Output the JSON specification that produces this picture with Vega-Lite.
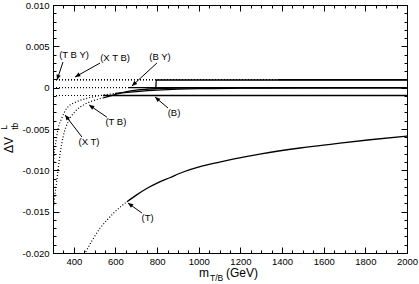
{
  "$schema": "https://vega.github.io/schema/vega-lite/v6.json",
  "width": 354,
  "height": 248,
  "autosize": {"type": "none"},
  "padding": {"left": 53, "top": 5, "right": 12, "bottom": 31},
  "background": "white",
  "config": {
    "view": {"stroke": "black", "strokeWidth": 1},
    "axis": {"grid": false, "domainColor": "black", "tickColor": "black", "labelColor": "black", "labelFont": "Liberation Sans", "labelFontSize": 9.5, "tickWidth": 1, "domainWidth": 1},
    "text": {"font": "Liberation Sans", "color": "black"}
  },
  "datasets": {
    "curves": [
      {"s": "XT", "part": "excluded", "m": 300, "v": -0.0108},
      {"s": "XT", "part": "excluded", "m": 305, "v": -0.0081},
      {"s": "XT", "part": "excluded", "m": 314, "v": -0.0065},
      {"s": "XT", "part": "excluded", "m": 325, "v": -0.0049},
      {"s": "XT", "part": "excluded", "m": 342, "v": -0.0037},
      {"s": "XT", "part": "excluded", "m": 366, "v": -0.0025},
      {"s": "XT", "part": "excluded", "m": 414, "v": -0.0017},
      {"s": "XT", "part": "excluded", "m": 462, "v": -0.0013},
      {"s": "XT", "part": "excluded", "m": 526, "v": -0.00095},
      {"s": "XT", "part": "excluded", "m": 560, "v": -0.00083},
      {"s": "XT", "part": "excluded", "m": 598, "v": -0.00068},
      {"s": "XT", "part": "allowed", "m": 598, "v": -0.00068},
      {"s": "XT", "part": "allowed", "m": 700, "v": -0.00047},
      {"s": "XT", "part": "allowed", "m": 800, "v": -0.0003},
      {"s": "XT", "part": "allowed", "m": 900, "v": -0.00018},
      {"s": "XT", "part": "allowed", "m": 1000, "v": -0.00011},
      {"s": "XT", "part": "allowed", "m": 1200, "v": -0.00006},
      {"s": "XT", "part": "allowed", "m": 1500, "v": -0.00003},
      {"s": "XT", "part": "allowed", "m": 2000, "v": -0.00001},
      {"s": "TB", "part": "excluded", "m": 300, "v": -0.015},
      {"s": "TB", "part": "excluded", "m": 310, "v": -0.0128},
      {"s": "TB", "part": "excluded", "m": 318, "v": -0.0113},
      {"s": "TB", "part": "excluded", "m": 325, "v": -0.0098},
      {"s": "TB", "part": "excluded", "m": 334, "v": -0.008},
      {"s": "TB", "part": "excluded", "m": 349, "v": -0.0059},
      {"s": "TB", "part": "excluded", "m": 373, "v": -0.0041},
      {"s": "TB", "part": "excluded", "m": 406, "v": -0.0029},
      {"s": "TB", "part": "excluded", "m": 446, "v": -0.0021},
      {"s": "TB", "part": "excluded", "m": 490, "v": -0.0016},
      {"s": "TB", "part": "excluded", "m": 540, "v": -0.00125},
      {"s": "TB", "part": "allowed", "m": 540, "v": -0.00125},
      {"s": "TB", "part": "allowed", "m": 600, "v": -0.0008},
      {"s": "TB", "part": "allowed", "m": 650, "v": -0.0005},
      {"s": "TB", "part": "allowed", "m": 700, "v": -0.0003},
      {"s": "TB", "part": "allowed", "m": 800, "v": -0.00012},
      {"s": "TB", "part": "allowed", "m": 900, "v": -0.00006},
      {"s": "TB", "part": "allowed", "m": 1100, "v": -0.00003},
      {"s": "TB", "part": "allowed", "m": 1500, "v": -0.00001},
      {"s": "TB", "part": "allowed", "m": 2000, "v": 0},
      {"s": "B", "part": "excluded", "m": 300, "v": -0.00095},
      {"s": "B", "part": "excluded", "m": 540, "v": -0.00095},
      {"s": "B", "part": "allowed", "m": 540, "v": -0.00095},
      {"s": "B", "part": "allowed", "m": 2000, "v": -0.00095},
      {"s": "BY", "part": "excluded", "m": 300, "v": 0},
      {"s": "BY", "part": "excluded", "m": 665, "v": 0},
      {"s": "BY", "part": "allowed", "m": 665, "v": 0},
      {"s": "BY", "part": "allowed", "m": 2000, "v": 0},
      {"s": "TBY", "part": "excluded", "m": 300, "v": 0.00093},
      {"s": "TBY", "part": "excluded", "m": 796, "v": 0.00093},
      {"s": "TBY", "part": "allowed", "m": 794, "v": 0},
      {"s": "TBY", "part": "allowed", "m": 796, "v": 0.00093},
      {"s": "TBY", "part": "allowed", "m": 2000, "v": 0.00093},
      {"s": "XTB", "part": "excluded", "m": 300, "v": 0.00097},
      {"s": "XTB", "part": "excluded", "m": 1380, "v": 0.00097},
      {"s": "XTB", "part": "allowed", "m": 1380, "v": 0.00097},
      {"s": "XTB", "part": "allowed", "m": 2000, "v": 0.00097},
      {"s": "T", "part": "excluded", "m": 450, "v": -0.0202},
      {"s": "T", "part": "excluded", "m": 490, "v": -0.0184},
      {"s": "T", "part": "excluded", "m": 526, "v": -0.017},
      {"s": "T", "part": "excluded", "m": 560, "v": -0.016},
      {"s": "T", "part": "excluded", "m": 590, "v": -0.0152},
      {"s": "T", "part": "excluded", "m": 620, "v": -0.0145},
      {"s": "T", "part": "excluded", "m": 655, "v": -0.0138},
      {"s": "T", "part": "allowed", "m": 655, "v": -0.0138},
      {"s": "T", "part": "allowed", "m": 700, "v": -0.013},
      {"s": "T", "part": "allowed", "m": 750, "v": -0.0122},
      {"s": "T", "part": "allowed", "m": 800, "v": -0.01155},
      {"s": "T", "part": "allowed", "m": 860, "v": -0.0109},
      {"s": "T", "part": "allowed", "m": 925, "v": -0.0102},
      {"s": "T", "part": "allowed", "m": 1006, "v": -0.00955},
      {"s": "T", "part": "allowed", "m": 1100, "v": -0.009},
      {"s": "T", "part": "allowed", "m": 1164, "v": -0.00865},
      {"s": "T", "part": "allowed", "m": 1300, "v": -0.008},
      {"s": "T", "part": "allowed", "m": 1486, "v": -0.0073},
      {"s": "T", "part": "allowed", "m": 1650, "v": -0.0068},
      {"s": "T", "part": "allowed", "m": 1822, "v": -0.0063},
      {"s": "T", "part": "allowed", "m": 2000, "v": -0.00585}
    ],
    "notes": [
      {"label": "(T B Y)", "lm": 401, "lv": 0.00395, "tm": 348, "tv": 0.0031, "hm": 319, "hv": 0.00093},
      {"label": "(X T B)", "lm": 598, "lv": 0.00359, "tm": 526, "tv": 0.00298, "hm": 406, "hv": 0.00129},
      {"label": "(B Y)", "lm": 814, "lv": 0.00371, "tm": 799, "tv": 0.00298, "hm": 679, "hv": 0.0002},
      {"label": "(T B)", "lm": 602, "lv": -0.00415, "tm": 559, "tv": -0.00357, "hm": 473, "hv": -0.00209},
      {"label": "(X T)", "lm": 473, "lv": -0.00657, "tm": 439, "tv": -0.00597, "hm": 358, "hv": -0.00331},
      {"label": "(B)", "lm": 881, "lv": -0.00307, "tm": 852, "tv": -0.00246, "hm": 790, "hv": -0.00113},
      {"label": "(T)", "lm": 754, "lv": -0.01577, "tm": 727, "tv": -0.01516, "hm": 660, "hv": -0.01395}
    ],
    "titles": [
      {"t": "m", "m": 1001, "v": -0.0229, "k": "xmain"},
      {"t": "T/B", "m": 1054, "v": -0.02339, "k": "xsub"},
      {"t": "(GeV)", "m": 1131, "v": -0.0229, "k": "xmain"},
      {"t": "ΔV", "m": 108, "v": -0.0079, "k": "ymain"},
      {"t": "tb", "m": 132, "v": -0.0051, "k": "ysub"},
      {"t": "L", "m": 79, "v": -0.0051, "k": "ysub"}
    ]
  },
  "layer": [
    {
      "data": {"name": "curves"},
      "transform": [{"filter": "datum.part == 'excluded'"}],
      "mark": {"type": "line", "color": "black", "strokeWidth": 1.2, "strokeDash": [1, 2], "strokeCap": "butt", "interpolate": "monotone", "clip": true},
      "encoding": {
        "x": {"field": "m", "type": "quantitative", "scale": {"domain": [300, 2000], "nice": false, "zero": false},
          "axis": {"orient": "bottom", "title": null, "values": [400, 600, 800, 1000, 1200, 1400, 1600, 1800, 2000], "format": "d", "tickSize": -6, "labelPadding": 9, "labelFlush": false, "labelOverlap": false}},
        "y": {"field": "v", "type": "quantitative", "scale": {"domain": [-0.02, 0.01], "nice": false, "zero": false},
          "axis": {"orient": "left", "title": null, "values": [-0.02, -0.015, -0.01, -0.005, 0, 0.005, 0.01], "labelExpr": "datum.value == 0 ? '0' : replace(format(datum.value, '.3f'), '\u2212', '-')", "tickSize": -6, "labelPadding": 10, "labelFlush": false, "labelOverlap": false}},
        "detail": {"field": "s"}
      }
    },
    {
      "data": {"name": "curves"},
      "transform": [{"filter": "datum.part == 'allowed'"}],
      "mark": {"type": "line", "color": "black", "strokeWidth": 1.3, "interpolate": "monotone", "clip": true},
      "encoding": {
        "x": {"field": "m", "type": "quantitative", "scale": {"domain": [300, 2000], "nice": false, "zero": false},
          "axis": {"orient": "top", "title": null, "values": [400, 600, 800, 1000, 1200, 1400, 1600, 1800, 2000], "labels": false, "tickSize": -6}},
        "y": {"field": "v", "type": "quantitative", "scale": {"domain": [-0.02, 0.01], "nice": false, "zero": false},
          "axis": {"orient": "right", "title": null, "values": [-0.02, -0.015, -0.01, -0.005, 0, 0.005, 0.01], "labels": false, "tickSize": -6}},
        "detail": {"field": "s"}
      }
    },
    {
      "data": {"name": "notes"},
      "mark": {"type": "rule", "color": "black", "strokeWidth": 1},
      "encoding": {
        "x": {"field": "tm", "type": "quantitative", "scale": {"domain": [300, 2000], "nice": false, "zero": false},
          "axis": {"orient": "bottom", "title": null, "labels": false, "domain": false, "tickSize": -3, "values": [350, 450, 500, 550, 650, 700, 750, 850, 900, 950, 1050, 1100, 1150, 1250, 1300, 1350, 1450, 1500, 1550, 1650, 1700, 1750, 1850, 1900, 1950]}},
        "y": {"field": "tv", "type": "quantitative", "scale": {"domain": [-0.02, 0.01], "nice": false, "zero": false},
          "axis": {"orient": "left", "title": null, "labels": false, "domain": false, "tickSize": -3, "values": [-0.019, -0.018, -0.017, -0.016, -0.014, -0.013, -0.012, -0.011, -0.009, -0.008, -0.007, -0.006, -0.004, -0.003, -0.002, -0.001, 0.001, 0.002, 0.003, 0.004, 0.006, 0.007, 0.008, 0.009]}},
        "x2": {"field": "hm"},
        "y2": {"field": "hv"}
      }
    },
    {
      "data": {"name": "notes"},
      "transform": [{"calculate": "atan2((datum.hm - datum.tm) * 354 / 1700, (datum.hv - datum.tv) * 248 / 0.03) * 180 / PI", "as": "ang"}],
      "mark": {"type": "point", "shape": "M0,0L-0.42,1L0.42,1Z", "filled": true, "color": "black", "opacity": 1, "size": 110, "strokeWidth": 0},
      "encoding": {
        "x": {"field": "hm", "type": "quantitative", "scale": {"domain": [300, 2000], "nice": false, "zero": false},
          "axis": {"orient": "top", "title": null, "labels": false, "domain": false, "tickSize": -3, "values": [350, 450, 500, 550, 650, 700, 750, 850, 900, 950, 1050, 1100, 1150, 1250, 1300, 1350, 1450, 1500, 1550, 1650, 1700, 1750, 1850, 1900, 1950]}},
        "y": {"field": "hv", "type": "quantitative", "scale": {"domain": [-0.02, 0.01], "nice": false, "zero": false},
          "axis": {"orient": "right", "title": null, "labels": false, "domain": false, "tickSize": -3, "values": [-0.019, -0.018, -0.017, -0.016, -0.014, -0.013, -0.012, -0.011, -0.009, -0.008, -0.007, -0.006, -0.004, -0.003, -0.002, -0.001, 0.001, 0.002, 0.003, 0.004, 0.006, 0.007, 0.008, 0.009]}},
        "angle": {"field": "ang", "type": "quantitative", "scale": null}
      }
    },
    {
      "data": {"name": "notes"},
      "mark": {"type": "text", "fontSize": 9.5, "align": "center", "baseline": "middle", "color": "black"},
      "encoding": {
        "x": {"field": "lm", "type": "quantitative", "scale": {"domain": [300, 2000], "nice": false, "zero": false}, "axis": null},
        "y": {"field": "lv", "type": "quantitative", "scale": {"domain": [-0.02, 0.01], "nice": false, "zero": false}, "axis": null},
        "text": {"field": "label"}
      }
    },
    {
      "data": {"name": "titles"},
      "transform": [{"filter": "datum.k == 'xmain'"}],
      "mark": {"type": "text", "fontSize": 12, "align": "left", "baseline": "alphabetic", "color": "black"},
      "encoding": {
        "x": {"field": "m", "type": "quantitative", "scale": {"domain": [300, 2000], "nice": false, "zero": false}, "axis": null},
        "y": {"field": "v", "type": "quantitative", "scale": {"domain": [-0.02, 0.01], "nice": false, "zero": false}, "axis": null},
        "text": {"field": "t"}
      }
    },
    {
      "data": {"name": "titles"},
      "transform": [{"filter": "datum.k == 'xsub'"}],
      "mark": {"type": "text", "fontSize": 8.5, "align": "left", "baseline": "alphabetic", "color": "black"},
      "encoding": {
        "x": {"field": "m", "type": "quantitative", "scale": {"domain": [300, 2000], "nice": false, "zero": false}, "axis": null},
        "y": {"field": "v", "type": "quantitative", "scale": {"domain": [-0.02, 0.01], "nice": false, "zero": false}, "axis": null},
        "text": {"field": "t"}
      }
    },
    {
      "data": {"name": "titles"},
      "transform": [{"filter": "datum.k == 'ymain'"}],
      "mark": {"type": "text", "fontSize": 12, "align": "left", "baseline": "alphabetic", "angle": 270, "color": "black"},
      "encoding": {
        "x": {"field": "m", "type": "quantitative", "scale": {"domain": [300, 2000], "nice": false, "zero": false}, "axis": null},
        "y": {"field": "v", "type": "quantitative", "scale": {"domain": [-0.02, 0.01], "nice": false, "zero": false}, "axis": null},
        "text": {"field": "t"}
      }
    },
    {
      "data": {"name": "titles"},
      "transform": [{"filter": "datum.k == 'ysub'"}],
      "mark": {"type": "text", "fontSize": 8.5, "align": "left", "baseline": "alphabetic", "angle": 270, "color": "black"},
      "encoding": {
        "x": {"field": "m", "type": "quantitative", "scale": {"domain": [300, 2000], "nice": false, "zero": false}, "axis": null},
        "y": {"field": "v", "type": "quantitative", "scale": {"domain": [-0.02, 0.01], "nice": false, "zero": false}, "axis": null},
        "text": {"field": "t"}
      }
    }
  ],
  "resolve": {"axis": {"x": "independent", "y": "independent"}}
}
